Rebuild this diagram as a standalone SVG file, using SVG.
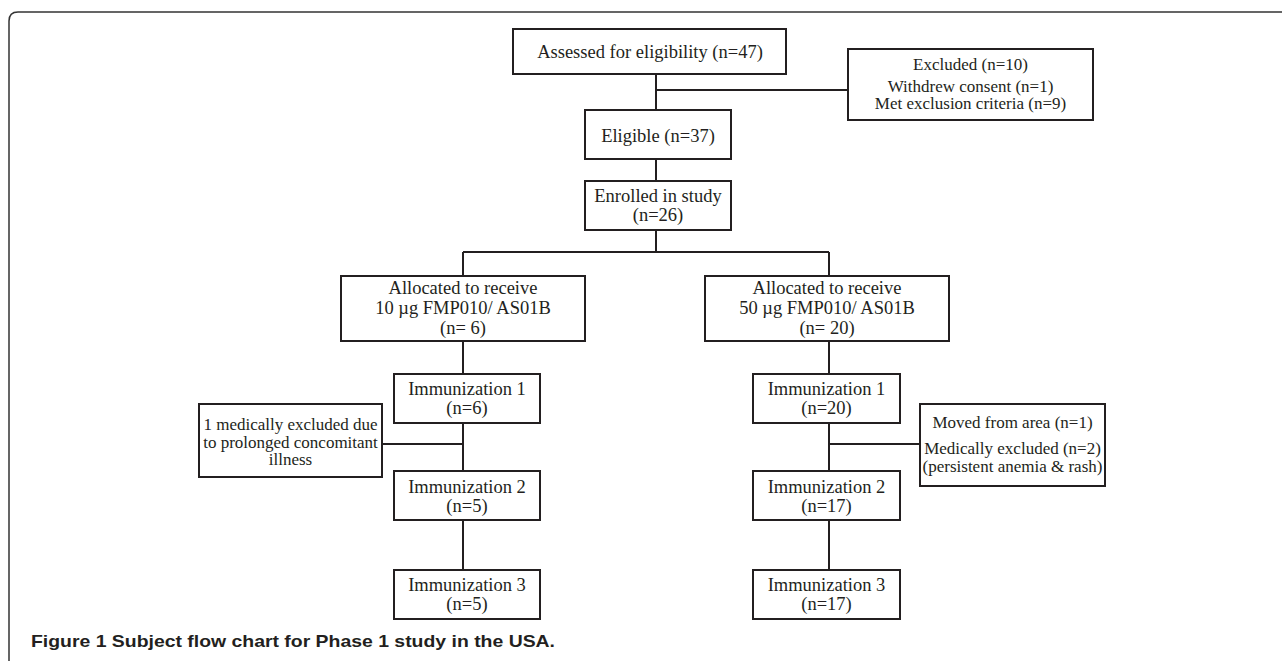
<svg xmlns="http://www.w3.org/2000/svg" width="1282" height="661" viewBox="0 0 1282 661">
<style>
.box{fill:#fff;stroke:#231f20;stroke-width:2}
.ln{fill:none;stroke:#231f20;stroke-width:2}
.t{font-family:"Liberation Serif","Times New Roman",serif;font-size:18.5px;fill:#231f20;text-anchor:middle}
.s{font-family:"Liberation Serif","Times New Roman",serif;font-size:17px;fill:#231f20;text-anchor:middle}
.cap{font-family:"Liberation Sans",Arial,sans-serif;font-size:17px;font-weight:bold;fill:#231f20}
</style>
<rect width="1282" height="661" fill="#fff"/>
<path d="M9 661 V21 Q9 12 18 12 H1282" fill="none" stroke="#333" stroke-width="1.5"/>
<g id="connectors">
<path class="ln" d="M656 74 V110 M656 90 H848 M656 159 V181 M656 230 V252 M463 252 H829 M463 252 V276 M829 252 V276"/>
<path class="ln" d="M463 341 V374 M463 423 V471 M463 520 V570 M382 444 H463"/>
<path class="ln" d="M829 341 V374 M829 423 V471 M829 520 V570 M829 444 H920"/>
</g>
<g id="assessed"><rect class="box" x="513" y="29" width="273" height="45"/><text class="t" x="650" y="58">Assessed for eligibility (n=47)</text></g>
<g id="excluded"><rect class="box" x="848" y="49" width="245" height="71"/><text class="s" x="970.5" y="70" font-size="16.5">Excluded (n=10)</text><text class="s" x="970.5" y="91.5" font-size="16.5">Withdrew consent (n=1)</text><text class="s" x="970.5" y="108.5" font-size="16.5">Met exclusion criteria (n=9)</text></g>
<g id="eligible"><rect class="box" x="585" y="110" width="146" height="49"/><text class="t" x="658" y="141.5">Eligible (n=37)</text></g>
<g id="enrolled"><rect class="box" x="585" y="181" width="146" height="49"/><text class="t" x="658" y="202">Enrolled in study</text><text class="t" x="658" y="221">(n=26)</text></g>
<g id="alloc10"><rect class="box" x="341" y="276" width="244" height="65"/><text class="t" x="463" y="293.5">Allocated to receive</text><text class="t" x="463" y="313.5">10 µg FMP010/ AS01B</text><text class="t" x="463" y="333.5">(n= 6)</text></g>
<g id="alloc50"><rect class="box" x="705" y="276" width="244" height="65"/><text class="t" x="827" y="293.5">Allocated to receive</text><text class="t" x="827" y="313.5">50 µg FMP010/ AS01B</text><text class="t" x="827" y="333.5">(n= 20)</text></g>
<g id="imm1a"><rect class="box" x="394" y="374" width="146" height="49"/><text class="t" x="467" y="395">Immunization 1</text><text class="t" x="467" y="414">(n=6)</text></g>
<g id="imm2a"><rect class="box" x="394" y="471" width="146" height="49"/><text class="t" x="467" y="492.5">Immunization 2</text><text class="t" x="467" y="511.5">(n=5)</text></g>
<g id="imm3a"><rect class="box" x="394" y="570" width="146" height="49"/><text class="t" x="467" y="591">Immunization 3</text><text class="t" x="467" y="610">(n=5)</text></g>
<g id="imm1b"><rect class="box" x="753" y="374" width="147" height="49"/><text class="t" x="826.5" y="395">Immunization 1</text><text class="t" x="826.5" y="414">(n=20)</text></g>
<g id="imm2b"><rect class="box" x="753" y="471" width="147" height="49"/><text class="t" x="826.5" y="492.5">Immunization 2</text><text class="t" x="826.5" y="511.5">(n=17)</text></g>
<g id="imm3b"><rect class="box" x="753" y="570" width="147" height="49"/><text class="t" x="826.5" y="591">Immunization 3</text><text class="t" x="826.5" y="610">(n=17)</text></g>
<g id="exclA"><rect class="box" x="199" y="404" width="183" height="73"/><text class="s" x="290.5" y="430">1 medically excluded due</text><text class="s" x="290.5" y="448">to prolonged concomitant</text><text class="s" x="290.5" y="465">illness</text></g>
<g id="exclB"><rect class="box" x="920" y="404" width="185" height="82"/><text class="s" x="1012.5" y="428">Moved from area (n=1)</text><text class="s" x="1012.5" y="454">Medically excluded (n=2)</text><text class="s" x="1012.5" y="471.5">(persistent anemia &amp; rash)</text></g>
<text class="cap" x="31" y="647" textLength="524" lengthAdjust="spacingAndGlyphs">Figure 1 Subject flow chart for Phase 1 study in the USA.</text>
</svg>
